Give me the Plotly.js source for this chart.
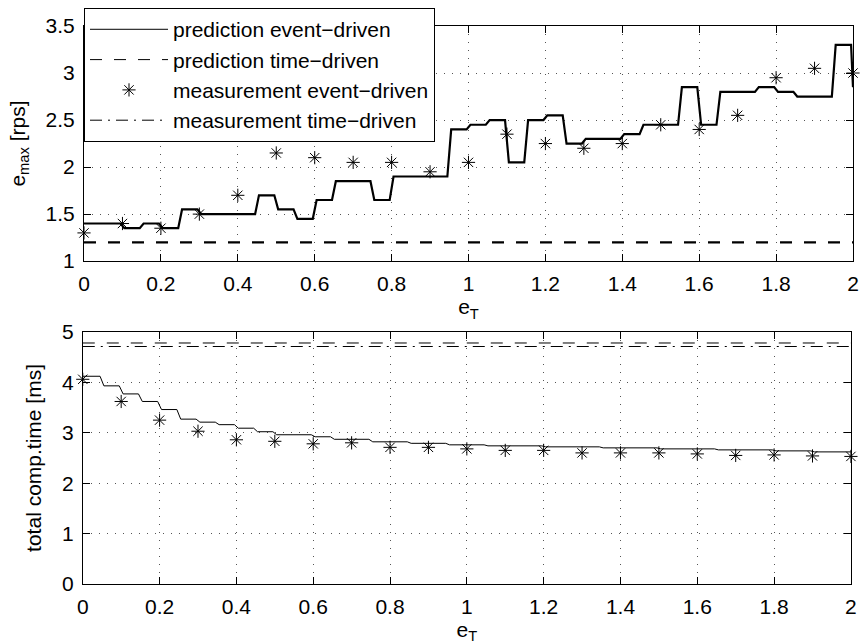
<!DOCTYPE html>
<html>
<head>
<meta charset="utf-8">
<script src="https://cdn.plot.ly/plotly-3.0.1.min.js"></script>
<style>html,body{margin:0;padding:0;background:#fff;}#chart{width:862px;height:644px;}</style>
</head>
<body>
<div id="chart"></div>
<script>
// ---------- data ----------
var measX = [0,0.1,0.2,0.3,0.4,0.5,0.6,0.7,0.8,0.9,1.0,1.1,1.2,1.3,1.4,1.5,1.6,1.7,1.8,1.9,2.0];

// top: e_max [rps]
var measEventTop = [1.3,1.4,1.35,1.5,1.7,2.15,2.1,2.05,2.05,1.95,2.05,2.35,2.25,2.2,2.25,2.45,2.4,2.55,2.95,3.05,3.0];
var predEventTopBreaks = [0,0.1,0.15,0.2,0.25,0.3,0.45,0.5,0.55,0.6,0.65,0.75,0.8,0.95,1.0,1.05,1.1,1.15,1.2,1.25,1.3,1.4,1.45,1.55,1.6,1.65,1.75,1.8,1.85,1.95,2.0];
var predEventTopLevels = [1.4,1.35,1.4,1.35,1.55,1.5,1.7,1.55,1.45,1.65,1.85,1.65,1.9,2.4,2.45,2.5,2.05,2.5,2.55,2.25,2.3,2.35,2.45,2.85,2.45,2.8,2.85,2.8,2.75,3.3,2.85];
var timeX = [0, 2];
var predTimeTop = [1.2, 1.2];

// bottom: total comp.time [ms]
var measEventBot = [4.06,3.62,3.25,3.03,2.86,2.83,2.78,2.80,2.71,2.71,2.68,2.65,2.65,2.60,2.60,2.60,2.58,2.55,2.56,2.54,2.53];
var predEventBotBreaks = [0,0.05,0.1,0.15,0.2,0.25,0.3,0.35,0.4,0.45,0.5,0.6,0.65,0.75,0.85,0.95,1.05,1.2,1.35,1.5,1.65,1.8,1.9,2.0];
var predEventBotLevels = [4.12,3.93,3.77,3.62,3.46,3.27,3.21,3.16,3.09,3.02,2.96,2.92,2.87,2.82,2.79,2.76,2.74,2.72,2.70,2.68,2.66,2.64,2.62,2.62];
var predTimeBot = [4.78, 4.78];
var measTimeBot = [4.71, 4.71];

var legendNames = ['prediction event\u2212driven','prediction time\u2212driven','measurement event\u2212driven','measurement time\u2212driven'];

// build step polylines (short ramps between levels)
function steps(breaks, levels, ramp) {
  var xs = [], ys = [];
  var n = breaks.length;
  for (var i = 0; i < n - 1; i++) {
    var x0 = i === 0 ? breaks[i] : breaks[i] + ramp;
    var x1 = breaks[i + 1] - ramp;
    xs.push(x0, x1); ys.push(levels[i], levels[i]);
  }
  xs.push(breaks[n - 1]); ys.push(levels[n - 1]);
  return {x: xs, y: ys};
}
var topStep = steps(predEventTopBreaks, predEventTopLevels, 0.005);
var botStep = steps(predEventBotBreaks, predEventBotLevels, 0.005);

var DASH = '12px,12px';
var DASHDOT = '12px,6px,2px,6px';
var star = {symbol: 'asterisk-open', size: 11, color: '#000', line: {color: '#000', width: 1}};

var traces = [
  // top
  {x: topStep.x, y: topStep.y, xaxis: 'x', yaxis: 'y', mode: 'lines', line: {color: '#000', width: 2.2}, showlegend: false, hoverinfo: 'skip'},
  {x: timeX, y: predTimeTop, xaxis: 'x', yaxis: 'y', mode: 'lines', line: {color: '#000', width: 2.2, dash: DASH}, showlegend: false},
  {x: measX, y: measEventTop, xaxis: 'x', yaxis: 'y', mode: 'markers', marker: star, cliponaxis: false, showlegend: false},
  // bottom (these provide the legend)
  {x: botStep.x, y: botStep.y, xaxis: 'x2', yaxis: 'y2', mode: 'lines', line: {color: '#000', width: 1}, name: legendNames[0]},
  {x: timeX, y: predTimeBot, xaxis: 'x2', yaxis: 'y2', mode: 'lines', line: {color: '#000', width: 1, dash: DASH}, name: legendNames[1]},
  {x: measX, y: measEventBot, xaxis: 'x2', yaxis: 'y2', mode: 'markers', marker: star, cliponaxis: false, name: legendNames[2]},
  {x: timeX, y: measTimeBot, xaxis: 'x2', yaxis: 'y2', mode: 'lines', line: {color: '#000', width: 1, dash: DASHDOT}, name: legendNames[3]}
];

var FONT = 'Liberation Sans, Arial, Helvetica, sans-serif';
function xax(domain, anchor) {
  return {
    domain: domain, anchor: anchor, range: [0, 2], dtick: 0.2, tick0: 0,
    showline: true, linecolor: '#000', linewidth: 1, mirror: 'ticks',
    ticks: 'inside', ticklen: 7, tickcolor: '#000', tickwidth: 1,
    showgrid: true, gridcolor: '#555', gridwidth: 1, griddash: '1px,7px',
    zeroline: false, tickfont: {family: FONT, size: 21, color: '#000'},
    ticklabelstandoff: 4,
    title: {text: 'e<sub>T</sub>', font: {family: FONT, size: 21, color: '#000'}, standoff: 2}
  };
}
function yax(domain, anchor, range, dtick, title) {
  return {
    domain: domain, anchor: anchor, range: range, dtick: dtick,
    showline: true, linecolor: '#000', linewidth: 1, mirror: 'ticks',
    ticks: 'inside', ticklen: 7, tickcolor: '#000', tickwidth: 1,
    showgrid: true, gridcolor: '#555', gridwidth: 1, griddash: '1px,7px',
    zeroline: false, tickfont: {family: FONT, size: 21, color: '#000'},
    ticklabelstandoff: 4,
    title: {text: title, font: {family: FONT, size: 21, color: '#000'}, standoff: 14}
  };
}

var layout = {
  width: 862, height: 644,
  margin: {l: 82, r: 8, t: 24, b: 60},
  paper_bgcolor: '#fff', plot_bgcolor: '#fff',
  font: {family: FONT, size: 21, color: '#000'},
  xaxis: xax([0.0026, 0.9987], 'y'),
  yaxis: yax([0.5786, 1], 'x', [1, 3.5], 0.5, 'e<sub>max</sub> [rps]'),
  xaxis2: xax([0.001, 0.996], 'y2'),
  yaxis2: yax([0, 0.4518], 'x2', [0, 5], 1, 'total comp.time [ms]'),
  showlegend: true,
  legend: {
    x: 0.0026, y: 1.032, xanchor: 'left', yanchor: 'top',
    bgcolor: '#fff', bordercolor: '#000', borderwidth: 1,
    font: {family: FONT, size: 21, color: '#000'},
    itemwidth: 78, tracegroupgap: 0
  },
  hovermode: false
};

Plotly.newPlot('chart', traces, layout, {staticPlot: true, displayModeBar: false});
</script>
</body>
</html>
